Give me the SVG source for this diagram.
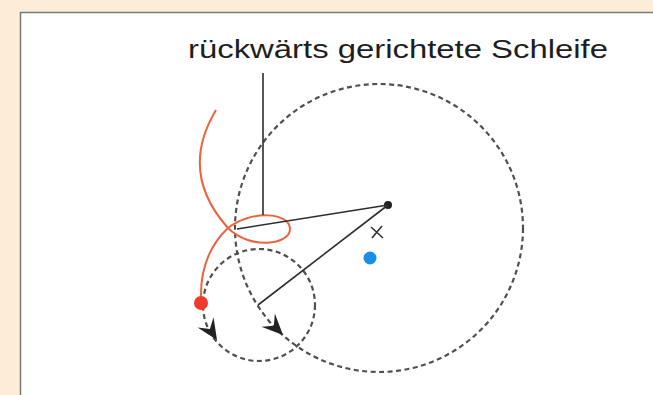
<svg xmlns="http://www.w3.org/2000/svg" width="653" height="395" viewBox="0 0 653 395">
  <style>
    .dash { fill: none; stroke: #505050; stroke-width: 2.2; stroke-dasharray: 5 3.5; }
    .line { fill: none; stroke: #2e2e2e; stroke-width: 1.6; }
    .arrow { fill: #222; }
    .label { font-family: "Liberation Sans", Arial, sans-serif; font-size: 26px; fill: #1e1e1e; }
  </style>
  <defs>
    <path id="dart" d="M0,0 L-21,-9.5 L-13,0 L-21,9.5 Z"/>
  </defs>
  <rect x="0" y="0" width="653" height="395" fill="#fcecd8"/>
  <rect x="20" y="12" width="633" height="383" fill="#ffffff"/>
  <path d="M20.5,395 L20.5,12.5 L653,12.5" fill="none" stroke="#7a7a7a" stroke-width="1.5"/>

  <g id="label">
    <text class="label" x="188" y="58" textLength="420" lengthAdjust="spacingAndGlyphs">rückwärts gerichtete Schleife</text>
  </g>

  <g id="big-orbit">
    <circle class="dash" cx="379" cy="228" r="144"/>
    <use href="#dart" class="arrow" transform="translate(283,335) rotate(45)"/>
  </g>

  <g id="small-orbit">
    <circle class="dash" cx="259" cy="305" r="56"/>
    <use href="#dart" class="arrow" transform="translate(217,340) rotate(57)"/>
  </g>

  <g id="retrograde-path">
    <path d="M216,110 C192,150 194,190 228,228 C250,250 290,245 290,229 C290,212 250,210 228,228 C210,245 200,270 201,300" fill="none" stroke="#ea6440" stroke-width="2"/>
  </g>

  <g id="sun">
    <circle cx="388" cy="205" r="4" fill="#222"/>
  </g>

  <g id="centre-cross">
    <path d="M371,227 L383,238 M372,238 L382,226" stroke="#333" stroke-width="1.6" fill="none"/>
  </g>

  <g id="blue-point">
    <circle cx="370" cy="258" r="6.5" fill="#1a8fe6"/>
  </g>

  <g id="red-point">
    <circle cx="201" cy="303" r="7" fill="#f03a2e"/>
  </g>

  <g id="connectors">
    <line class="line" x1="263" y1="73" x2="263" y2="215"/>
    <line class="line" x1="388" y1="205" x2="237" y2="229"/>
    <line class="line" x1="388" y1="205" x2="258" y2="305"/>
  </g>
</svg>
